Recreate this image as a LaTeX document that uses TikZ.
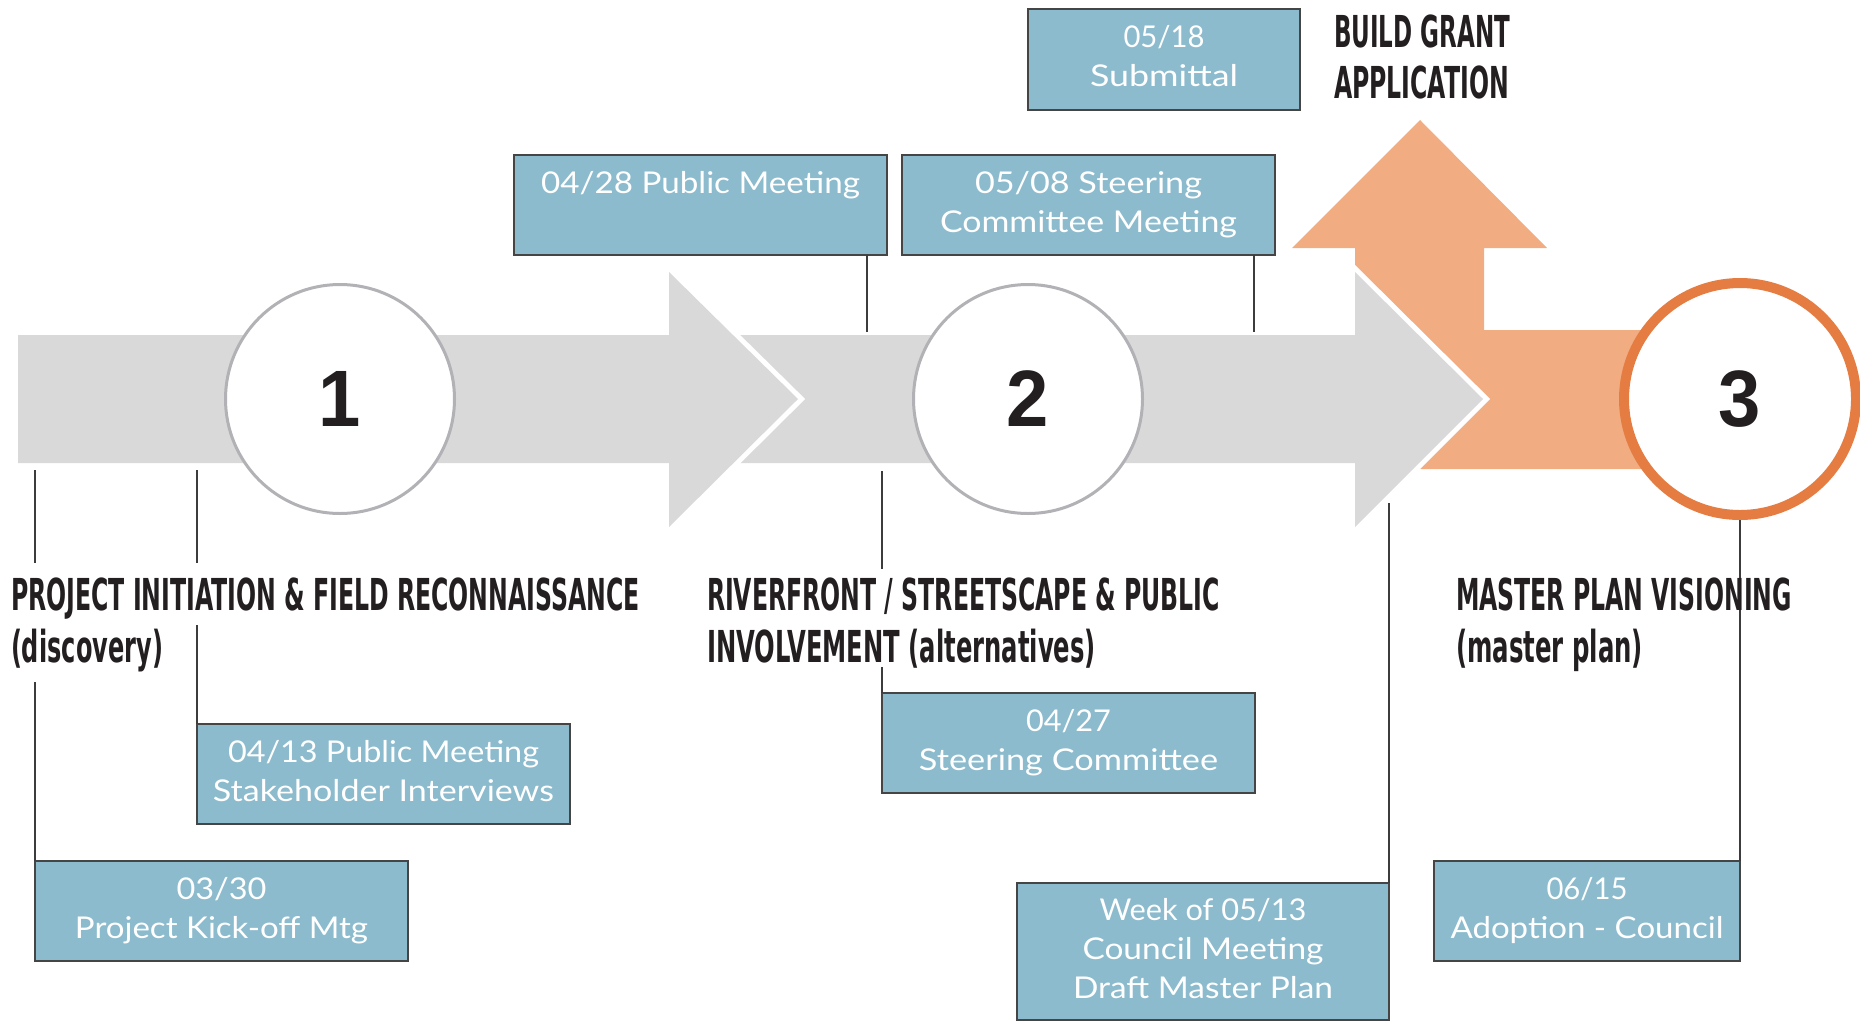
\documentclass[tikz,border=0pt]{standalone}
\usepackage{fontspec}
\usepackage{graphicx}
\newfontfamily\boxfont{Lato}
\newfontfamily\headfont{DejaVu Sans}
\newfontfamily\digitfont{Liberation Sans}
\definecolor{band}{HTML}{D9D9D9}
\definecolor{orangefill}{HTML}{F1AC82}
\definecolor{orangeline}{HTML}{E57C42}
\definecolor{circgray}{HTML}{B2B2B6}
\definecolor{boxblue}{HTML}{8CBBCD}
\definecolor{boxline}{HTML}{454545}
\definecolor{lineclr}{HTML}{3C3C3C}
\definecolor{ink}{HTML}{231F20}
% squeeze a line horizontally to a given width (in pt), keeping its height
\newcommand\fitw[2]{\resizebox{#1pt}{\height}{#2}}
\begin{document}
\begin{tikzpicture}[x=1pt,y=-1pt,
  datebox/.style={draw=boxline, line width=2pt, fill=boxblue, text=white,
    anchor=north west, inner sep=0pt, outer sep=0pt, align=center,
    font=\boxfont\fontsize{30}{39}\selectfont},
  circ/.style={circle, draw=circgray, line width=3pt, fill=white,
    minimum size=229pt, inner sep=0pt, text=ink,
    font=\digitfont\bfseries\fontsize{80}{82}\selectfont},
  conn/.style={draw=lineclr, line width=1.6pt},
  hd/.style={anchor=base west, inner sep=0pt, outer sep=0pt, text=ink,
    font=\headfont\bfseries\fontsize{44}{52}\selectfont},
  mask/.style={fill=white},
  gap/.style={preaction={draw=white, line width=10pt}}]
\useasboundingbox (0,0) rectangle (1860,1021);

% orange branch: upward arrow joined to the band that leads to phase 3
\fill[orangefill] (1355,248) -- (1292,248) -- (1420,120) -- (1547,248)
  -- (1484,248) -- (1484,330) -- (1740,330) -- (1740,469) -- (1413,469)
  -- (1483,399) -- (1355,271) -- cycle;

% second grey arrow, then the first one on top of its tail
\path[fill=band, gap] (700,335) -- (1355,335) -- (1355,272) -- (1483,399)
  -- (1355,527) -- (1355,463) -- (700,463) -- cycle;
\path[fill=band, gap] (18,335) -- (669,335) -- (669,272) -- (798,399)
  -- (669,527) -- (669,463) -- (18,463) -- cycle;

% phase circles
\node[circ] (c1) at (340,399) {\scalebox{0.95}[1]{1}};
\node[circ] (c2) at (1028,399) {\scalebox{0.95}[1]{2}};
\node[circ, draw=orangeline, line width=10pt, minimum size=232pt] (c3) at (1740,399) {\scalebox{0.95}[1]{3}};

% milestone boxes
\node[datebox, minimum width=373pt, minimum height=100pt] (A) at (35,861)
  {\strut\fitw{90}{03/30}\\\strut\fitw{293}{Project Kick-off Mtg}};
\node[datebox, minimum width=373pt, minimum height=100pt] (B) at (197,724)
  {\strut\fitw{311}{04/13 Public Meeting}\\\strut\fitw{341}{Stakeholder Interviews}};
\node[datebox, minimum width=373pt, minimum height=100pt] (C) at (882,693)
  {\strut\fitw{85}{04/27}\\\strut\fitw{299}{Steering Committee}};
\node[datebox, minimum width=372pt, minimum height=137pt] (D) at (1017,883)
  {\strut\fitw{207}{Week of 05/13}\\\strut\fitw{241}{Council Meeting}\\\strut\fitw{260}{Draft Master Plan}};
\node[datebox, minimum width=306pt, minimum height=100pt] (E) at (1434,861)
  {\strut\fitw{81}{06/15}\\\strut\fitw{273}{Adoption - Council}};
\node[datebox, minimum width=373pt, minimum height=100pt] (F) at (514,155)
  {\strut\fitw{319}{04/28 Public Meeting}\\\strut};
\node[datebox, minimum width=373pt, minimum height=100pt] (G) at (902,155)
  {\strut\fitw{227}{05/08 Steering}\\\strut\fitw{297}{Committee Meeting}};
\node[datebox, minimum width=272pt, minimum height=101pt] (H) at (1028,9)
  {\strut\fitw{81}{05/18}\\\strut\fitw{148}{Submittal}};

% leader lines
\coordinate (a0) at (35,470);
\coordinate (b0) at (197,470);
\coordinate (c0) at (882,471);
\coordinate (d0) at (1389,503);
\coordinate (f0) at (867,332);
\coordinate (g0) at (1254,332);
\draw[conn] (a0) -- (A.north west);
\draw[conn] (b0) -- (B.north west);
\draw[conn] (c0) -- (C.north west);
\draw[conn] (d0) -- (D.north east);
\draw[conn] (c3.south) -- (E.north east);
\draw[conn] (F.south east -| f0) -- (f0);
\draw[conn] (G.south east -| g0) -- (g0);

% phase titles
\node[hd, mask, text height=47pt, text depth=15pt] (h1a) at (11,610)
  {\fitw{629}{PROJECT INITIATION \& FIELD RECONNAISSANCE}};
\node[hd, mask, text height=37pt, text depth=20pt] (h1b) at (11,662)
  {\fitw{152}{(discovery)}};
\node[hd, mask, text height=41pt, text depth=15pt] (h2a) at (707,610)
  {\fitw{513}{RIVERFRONT / STREETSCAPE \& PUBLIC}};
\node[hd, mask, text height=37pt, text depth=5pt] (h2b) at (707,662)
  {\fitw{389}{INVOLVEMENT (alternatives)}};
\node[hd] (h3a) at (1456,610) {\fitw{336}{MASTER PLAN VISIONING}};
\node[hd] (h3b) at (1456,662) {\fitw{187}{(master plan)}};
\node[hd] (g1) at (1334,47) {\fitw{176}{BUILD GRANT}};
\node[hd] (g2) at (1334,98) {\fitw{175}{APPLICATION}};
\end{tikzpicture}
\end{document}
